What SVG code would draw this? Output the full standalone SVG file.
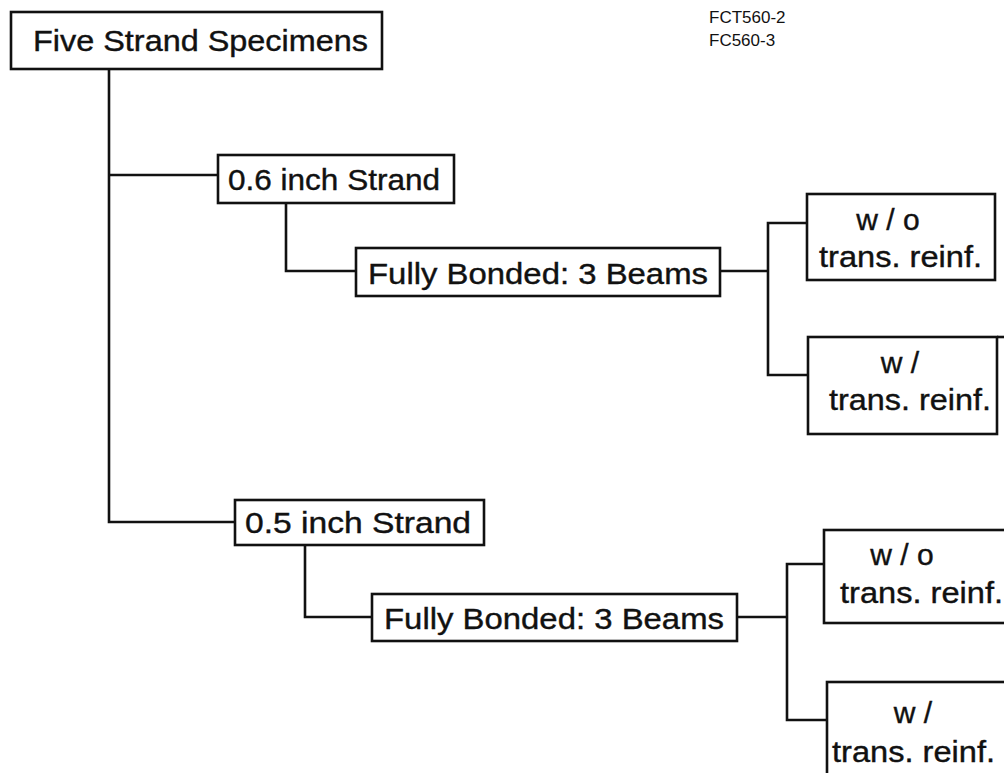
<svg xmlns="http://www.w3.org/2000/svg" width="1004" height="773" viewBox="0 0 1004 773">
<style>
.box{fill:#fff;stroke:#111;stroke-width:2.6}
.ln{fill:none;stroke:#111;stroke-width:2.6}
.t{font-family:"Liberation Sans",Arial,sans-serif;font-size:30px;fill:#111;stroke:#111;stroke-width:0.4}
.s{font-family:"Liberation Sans",Arial,sans-serif;font-size:17px;fill:#111}
</style>
<rect width="1004" height="773" fill="#fff"/>
<g id="connectors">
<path class="ln" d="M109,69 V522 H235"/>
<path class="ln" d="M109,175 H218"/>
<path class="ln" d="M286,203 V271 H356"/>
<path class="ln" d="M720,271 H768"/>
<path class="ln" d="M807,223 H768 V375 H808"/>
<path class="ln" d="M305,545 V617 H372"/>
<path class="ln" d="M737,617 H787"/>
<path class="ln" d="M824,564 H787 V720 H827"/>
</g>
<g id="note">
<text class="s" x="709" y="23">FCT560-2</text>
<text class="s" x="709" y="46">FC560-3</text>
</g>
<g id="n-five">
<rect class="box" x="11" y="12" width="371" height="57"/>
<text class="t" x="33" y="51" textLength="335" lengthAdjust="spacingAndGlyphs">Five Strand Specimens</text>
</g>
<g id="n-06">
<rect class="box" x="218" y="155" width="236" height="48"/>
<text class="t" x="228" y="190" textLength="212" lengthAdjust="spacingAndGlyphs">0.6 inch Strand</text>
</g>
<g id="n-fb1">
<rect class="box" x="356" y="248" width="364" height="48"/>
<text class="t" x="368" y="284" textLength="340" lengthAdjust="spacingAndGlyphs">Fully Bonded: 3 Beams</text>
</g>
<g id="n-wo1">
<rect class="box" x="807" y="194" width="188" height="86"/>
<text class="t" x="888" y="230" text-anchor="middle">w / o</text>
<text class="t" x="819" y="267" textLength="163" lengthAdjust="spacingAndGlyphs">trans. reinf.</text>
</g>
<g id="n-w1">
<rect class="box" x="808" y="337" width="189" height="97"/>
<path class="ln" d="M997,337 H1004"/>
<text class="t" x="900" y="373" text-anchor="middle">w /</text>
<text class="t" x="829" y="410" textLength="162" lengthAdjust="spacingAndGlyphs">trans. reinf.</text>
</g>
<g id="n-05">
<rect class="box" x="235" y="500" width="249" height="45"/>
<text class="t" x="245" y="533" textLength="226" lengthAdjust="spacingAndGlyphs">0.5 inch Strand</text>
</g>
<g id="n-fb2">
<rect class="box" x="372" y="594" width="365" height="47"/>
<text class="t" x="384" y="629" textLength="340" lengthAdjust="spacingAndGlyphs">Fully Bonded: 3 Beams</text>
</g>
<g id="n-wo2">
<rect class="box" x="824" y="530" width="200" height="93"/>
<text class="t" x="902" y="565" text-anchor="middle">w / o</text>
<text class="t" x="840" y="603" textLength="163" lengthAdjust="spacingAndGlyphs">trans. reinf.</text>
</g>
<g id="n-w2">
<rect class="box" x="827" y="682" width="200" height="120"/>
<text class="t" x="913" y="723" text-anchor="middle">w /</text>
<text class="t" x="832" y="762" textLength="163" lengthAdjust="spacingAndGlyphs">trans. reinf.</text>
</g>
</svg>
